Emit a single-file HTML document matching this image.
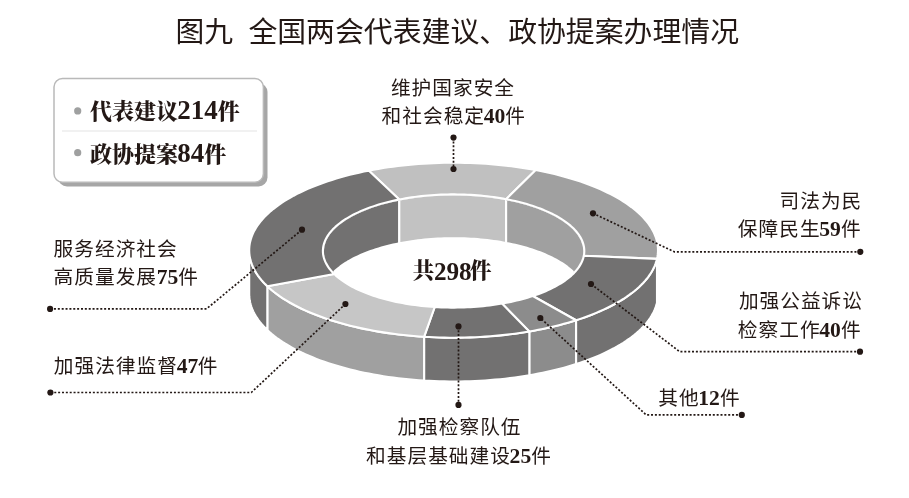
<!DOCTYPE html>
<html lang="zh-CN"><head><meta charset="utf-8"><title>图九 全国两会代表建议、政协提案办理情况</title>
<style>
html,body{margin:0;padding:0;background:#fff;}
body{width:909px;height:498px;overflow:hidden;}
svg{display:block;will-change:transform;}
text{fill:#231815;}
.t{font-family:"Liberation Sans","Noto Sans CJK SC",sans-serif;font-weight:400;}
.l{font-family:"Liberation Sans","Noto Sans CJK SC",sans-serif;font-weight:400;}
.b{font-family:"Liberation Serif","Noto Serif CJK SC",serif;font-weight:900;}
.n{font-family:"Liberation Serif","Noto Serif CJK SC",serif;font-weight:700;}
</style></head><body>
<svg width="909" height="498" viewBox="0 0 909 498">
<rect width="909" height="498" fill="#fff"/>
<rect x="58" y="83" width="209.5" height="103.4" rx="9" fill="#a6a6a6"/>
<rect x="54" y="78.6" width="209.4" height="103.6" rx="8.5" fill="#fff" stroke="#b9b9b9" stroke-width="1.5"/>
<line x1="62" y1="131" x2="257" y2="131" stroke="#e3e3e3" stroke-width="1"/>
<circle cx="77.7" cy="110.9" r="3.6" fill="#9fa0a0"/><circle cx="77.7" cy="152.7" r="3.6" fill="#9fa0a0"/>
<path d="M658.00 250.20 L657.94 252.38 L657.75 254.55 L657.43 256.72 L656.99 258.89 L656.99 302.69 L657.43 300.52 L657.75 298.35 L657.94 296.18 L658.00 294.00Z" fill="#a0a0a0" stroke="#fff" stroke-width="2.1" stroke-linejoin="round" />
<path d="M656.99 258.89 L656.40 261.14 L655.66 263.39 L654.80 265.62 L653.80 267.85 L652.66 270.06 L651.39 272.27 L649.99 274.45 L648.46 276.62 L646.79 278.77 L645.00 280.91 L643.08 283.02 L641.03 285.11 L638.85 287.17 L636.55 289.22 L634.13 291.23 L631.59 293.22 L628.93 295.18 L626.14 297.11 L623.25 299.01 L620.24 300.87 L617.12 302.70 L613.88 304.50 L610.54 306.26 L607.10 307.98 L603.55 309.66 L599.90 311.30 L596.16 312.91 L592.31 314.47 L588.38 315.98 L584.35 317.46 L580.24 318.88 L576.04 320.26 L576.04 364.06 L580.24 362.68 L584.35 361.26 L588.38 359.78 L592.31 358.27 L596.16 356.71 L599.90 355.10 L603.55 353.46 L607.10 351.78 L610.54 350.06 L613.88 348.30 L617.12 346.50 L620.24 344.67 L623.25 342.81 L626.14 340.91 L628.93 338.98 L631.59 337.02 L634.13 335.03 L636.55 333.02 L638.85 330.97 L641.03 328.91 L643.08 326.82 L645.00 324.71 L646.79 322.57 L648.46 320.42 L649.99 318.25 L651.39 316.07 L652.66 313.86 L653.80 311.65 L654.80 309.42 L655.66 307.19 L656.40 304.94 L656.99 302.69Z" fill="#727171" stroke="#fff" stroke-width="2.1" stroke-linejoin="round" />
<path d="M576.04 320.26 L572.09 321.50 L568.08 322.69 L564.00 323.84 L559.86 324.95 L555.66 326.01 L551.40 327.03 L547.08 328.01 L542.71 328.95 L538.29 329.84 L533.82 330.68 L529.31 331.48 L529.31 375.28 L533.82 374.48 L538.29 373.64 L542.71 372.75 L547.08 371.81 L551.40 370.83 L555.66 369.81 L559.86 368.75 L564.00 367.64 L568.08 366.49 L572.09 365.30 L576.04 364.06Z" fill="#8c8c8c" stroke="#fff" stroke-width="2.1" stroke-linejoin="round" />
<path d="M529.31 331.48 L524.55 332.26 L519.74 332.99 L514.89 333.67 L510.00 334.30 L505.08 334.88 L500.13 335.40 L495.14 335.87 L490.13 336.29 L485.10 336.65 L480.05 336.96 L474.98 337.22 L469.90 337.42 L464.81 337.57 L459.71 337.66 L454.61 337.70 L449.51 337.68 L444.41 337.61 L439.31 337.49 L434.23 337.31 L429.15 337.07 L424.09 336.78 L424.09 380.58 L429.15 380.87 L434.23 381.11 L439.31 381.29 L444.41 381.41 L449.51 381.48 L454.61 381.50 L459.71 381.46 L464.81 381.37 L469.90 381.22 L474.98 381.02 L480.05 380.76 L485.10 380.45 L490.13 380.09 L495.14 379.67 L500.13 379.20 L505.08 378.68 L510.00 378.10 L514.89 377.47 L519.74 376.79 L524.55 376.06 L529.31 375.28Z" fill="#727171" stroke="#fff" stroke-width="2.1" stroke-linejoin="round" />
<path d="M424.09 336.78 L418.91 336.43 L413.75 336.02 L408.61 335.55 L403.50 335.03 L398.43 334.45 L393.39 333.82 L388.40 333.13 L383.44 332.38 L378.53 331.59 L373.68 330.73 L368.87 329.83 L364.12 328.87 L359.43 327.86 L354.80 326.80 L350.24 325.69 L345.74 324.53 L341.32 323.32 L336.97 322.06 L332.70 320.75 L328.50 319.40 L324.39 318.00 L320.37 316.56 L316.43 315.07 L312.58 313.54 L308.83 311.97 L305.17 310.36 L301.61 308.71 L298.15 307.01 L294.79 305.29 L291.54 303.52 L288.39 301.72 L285.36 299.89 L282.43 298.02 L279.62 296.13 L276.92 294.20 L274.34 292.24 L271.87 290.26 L269.53 288.24 L267.31 286.21 L267.31 330.01 L269.53 332.04 L271.87 334.06 L274.34 336.04 L276.92 338.00 L279.62 339.93 L282.43 341.82 L285.36 343.69 L288.39 345.52 L291.54 347.32 L294.79 349.09 L298.15 350.81 L301.61 352.51 L305.17 354.16 L308.83 355.77 L312.58 357.34 L316.43 358.87 L320.37 360.36 L324.39 361.80 L328.50 363.20 L332.70 364.55 L336.97 365.86 L341.32 367.12 L345.74 368.33 L350.24 369.49 L354.80 370.60 L359.43 371.66 L364.12 372.67 L368.87 373.63 L373.68 374.53 L378.53 375.39 L383.44 376.18 L388.40 376.93 L393.39 377.62 L398.43 378.25 L403.50 378.83 L408.61 379.35 L413.75 379.82 L418.91 380.23 L424.09 380.58Z" fill="#a0a0a0" stroke="#fff" stroke-width="2.1" stroke-linejoin="round" />
<path d="M267.31 286.21 L265.27 284.21 L263.35 282.19 L261.54 280.14 L259.86 278.08 L258.29 276.01 L256.85 273.91 L255.53 271.80 L254.33 269.68 L253.26 267.55 L252.31 265.40 L251.49 263.25 L250.79 261.09 L250.22 258.92 L249.77 256.74 L249.45 254.56 L249.26 252.38 L249.20 250.20 L249.20 294.00 L249.26 296.18 L249.45 298.36 L249.77 300.54 L250.22 302.72 L250.79 304.89 L251.49 307.05 L252.31 309.20 L253.26 311.35 L254.33 313.48 L255.53 315.60 L256.85 317.71 L258.29 319.81 L259.86 321.88 L261.54 323.94 L263.35 325.99 L265.27 328.01 L267.31 330.01Z" fill="#727171" stroke="#fff" stroke-width="2.1" stroke-linejoin="round" />
<path d="M368.67 170.61 L373.45 169.71 L378.27 168.86 L383.14 168.06 L388.06 167.32 L393.02 166.63 L398.02 166.00 L403.06 165.42 L408.13 164.89 L413.23 164.42 L418.36 164.01 L423.51 163.65 L428.67 163.35 L433.86 163.11 L439.06 162.92 L444.26 162.79 L449.48 162.72 L454.69 162.70 L459.91 162.74 L465.12 162.84 L470.32 162.99 L475.51 163.20 L480.69 163.47 L485.85 163.80 L490.99 164.18 L496.11 164.61 L501.20 165.11 L506.25 165.65 L511.27 166.26 L516.26 166.91 L521.20 167.62 L526.10 168.39 L530.96 169.21 L535.76 170.08 L506.13 199.17 L503.06 198.61 L499.96 198.08 L496.83 197.59 L493.67 197.13 L490.48 196.70 L487.27 196.31 L484.03 195.96 L480.78 195.64 L477.51 195.36 L474.22 195.11 L470.92 194.90 L467.61 194.73 L464.29 194.59 L460.96 194.49 L457.63 194.43 L454.30 194.40 L450.96 194.41 L447.63 194.46 L444.30 194.54 L440.98 194.66 L437.66 194.82 L434.36 195.02 L431.06 195.25 L427.79 195.51 L424.53 195.82 L421.28 196.16 L418.06 196.53 L414.87 196.94 L411.69 197.39 L408.55 197.87 L405.43 198.38 L402.35 198.93 L399.30 199.52Z" fill="#c0c0c0" stroke="#fff" stroke-width="2.1" stroke-linejoin="round" />
<path d="M535.76 170.08 L540.53 171.01 L545.25 171.99 L549.90 173.02 L554.49 174.10 L559.02 175.23 L563.47 176.42 L567.86 177.65 L572.17 178.93 L576.40 180.25 L580.55 181.62 L584.61 183.04 L588.59 184.50 L592.48 186.00 L596.28 187.55 L599.99 189.13 L603.60 190.76 L607.11 192.43 L610.52 194.13 L613.83 195.87 L617.03 197.65 L620.12 199.46 L623.11 201.30 L625.98 203.18 L628.74 205.09 L631.39 207.03 L633.91 208.99 L636.32 210.98 L638.61 213.00 L640.78 215.05 L642.82 217.11 L644.74 219.20 L646.54 221.31 L648.20 223.44 L649.74 225.58 L651.15 227.74 L652.43 229.92 L653.58 232.11 L654.60 234.31 L655.49 236.52 L656.24 238.74 L656.86 240.97 L657.35 243.20 L657.70 245.44 L657.92 247.69 L658.00 249.93 L657.95 252.17 L657.76 254.42 L657.44 256.65 L656.99 258.89 L583.84 255.74 L584.08 254.28 L584.23 252.81 L584.30 251.35 L584.27 249.89 L584.16 248.43 L583.97 246.97 L583.68 245.51 L583.31 244.05 L582.85 242.60 L582.31 241.16 L581.68 239.72 L580.96 238.29 L580.16 236.87 L579.28 235.46 L578.31 234.06 L577.25 232.67 L576.12 231.29 L574.90 229.92 L573.60 228.57 L572.22 227.24 L570.76 225.92 L569.23 224.61 L567.61 223.33 L565.92 222.06 L564.16 220.81 L562.32 219.59 L560.41 218.38 L558.43 217.19 L556.37 216.03 L554.25 214.89 L552.06 213.78 L549.81 212.69 L547.49 211.62 L545.11 210.59 L542.66 209.58 L540.16 208.59 L537.60 207.64 L534.98 206.71 L532.31 205.82 L529.59 204.95 L526.82 204.11 L523.99 203.31 L521.12 202.54 L518.21 201.80 L515.25 201.09 L512.25 200.42 L509.21 199.78 L506.13 199.17Z" fill="#a0a0a0" stroke="#fff" stroke-width="2.1" stroke-linejoin="round" />
<path d="M656.99 258.89 L656.40 261.14 L655.66 263.39 L654.80 265.62 L653.80 267.85 L652.66 270.06 L651.39 272.27 L649.99 274.45 L648.46 276.62 L646.79 278.77 L645.00 280.91 L643.08 283.02 L641.03 285.11 L638.85 287.17 L636.55 289.22 L634.13 291.23 L631.59 293.22 L628.93 295.18 L626.14 297.11 L623.25 299.01 L620.24 300.87 L617.12 302.70 L613.88 304.50 L610.54 306.26 L607.10 307.98 L603.55 309.66 L599.90 311.30 L596.16 312.91 L592.31 314.47 L588.38 315.98 L584.35 317.46 L580.24 318.88 L576.04 320.26 L532.80 296.02 L535.49 295.11 L538.12 294.17 L540.70 293.20 L543.22 292.20 L545.67 291.17 L548.06 290.12 L550.39 289.04 L552.65 287.93 L554.84 286.79 L556.97 285.64 L559.02 284.46 L561.01 283.25 L562.91 282.03 L564.75 280.78 L566.51 279.51 L568.19 278.22 L569.79 276.92 L571.32 275.60 L572.76 274.26 L574.12 272.90 L575.40 271.53 L576.60 270.14 L577.71 268.75 L578.74 267.34 L579.68 265.91 L580.54 264.48 L581.31 263.04 L581.99 261.59 L582.59 260.14 L583.09 258.68 L583.51 257.21 L583.84 255.74Z" fill="#727171" stroke="#fff" stroke-width="2.1" stroke-linejoin="round" />
<path d="M576.04 320.26 L572.09 321.50 L568.08 322.69 L564.00 323.84 L559.86 324.95 L555.66 326.01 L551.40 327.03 L547.08 328.01 L542.71 328.95 L538.29 329.84 L533.82 330.68 L529.31 331.48 L502.01 303.57 L504.99 303.04 L507.94 302.48 L510.86 301.88 L513.74 301.25 L516.59 300.59 L519.40 299.90 L522.17 299.19 L524.89 298.44 L527.57 297.66 L530.21 296.86 L532.80 296.02Z" fill="#8c8c8c" stroke="#fff" stroke-width="2.1" stroke-linejoin="round" />
<path d="M529.31 331.48 L524.55 332.26 L519.74 332.99 L514.89 333.67 L510.00 334.30 L505.08 334.88 L500.13 335.40 L495.14 335.87 L490.13 336.29 L485.10 336.65 L480.05 336.96 L474.98 337.22 L469.90 337.42 L464.81 337.57 L459.71 337.66 L454.61 337.70 L449.51 337.68 L444.41 337.61 L439.31 337.49 L434.23 337.31 L429.15 337.07 L424.09 336.78 L434.73 307.01 L437.97 307.19 L441.21 307.35 L444.46 307.46 L447.72 307.54 L450.98 307.59 L454.25 307.60 L457.51 307.57 L460.77 307.51 L464.02 307.42 L467.27 307.29 L470.51 307.12 L473.74 306.92 L476.96 306.69 L480.16 306.42 L483.35 306.11 L486.52 305.78 L489.67 305.40 L492.79 305.00 L495.89 304.56 L498.96 304.08 L502.01 303.57Z" fill="#727171" stroke="#fff" stroke-width="2.1" stroke-linejoin="round" />
<path d="M424.09 336.78 L418.91 336.43 L413.75 336.02 L408.61 335.55 L403.50 335.03 L398.43 334.45 L393.39 333.82 L388.40 333.13 L383.44 332.38 L378.53 331.59 L373.68 330.73 L368.87 329.83 L364.12 328.87 L359.43 327.86 L354.80 326.80 L350.24 325.69 L345.74 324.53 L341.32 323.32 L336.97 322.06 L332.70 320.75 L328.50 319.40 L324.39 318.00 L320.37 316.56 L316.43 315.07 L312.58 313.54 L308.83 311.97 L305.17 310.36 L301.61 308.71 L298.15 307.01 L294.79 305.29 L291.54 303.52 L288.39 301.72 L285.36 299.89 L282.43 298.02 L279.62 296.13 L276.92 294.20 L274.34 292.24 L271.87 290.26 L269.53 288.24 L267.31 286.21 L334.20 274.02 L335.61 275.35 L337.10 276.66 L338.67 277.95 L340.32 279.23 L342.04 280.49 L343.83 281.72 L345.70 282.94 L347.64 284.14 L349.65 285.31 L351.73 286.46 L353.88 287.59 L356.10 288.69 L358.38 289.77 L360.72 290.82 L363.12 291.85 L365.59 292.84 L368.11 293.81 L370.69 294.76 L373.33 295.67 L376.02 296.55 L378.76 297.40 L381.55 298.22 L384.39 299.01 L387.28 299.77 L390.21 300.50 L393.18 301.19 L396.19 301.85 L399.25 302.47 L402.33 303.06 L405.45 303.62 L408.61 304.14 L411.79 304.63 L415.00 305.08 L418.24 305.49 L421.50 305.87 L424.78 306.21 L428.08 306.51 L431.40 306.78 L434.73 307.01Z" fill="#c6c6c6" stroke="#fff" stroke-width="2.1" stroke-linejoin="round" />
<path d="M267.31 286.21 L265.18 284.11 L263.17 282.00 L261.30 279.86 L259.56 277.70 L257.95 275.52 L256.47 273.33 L255.12 271.11 L253.92 268.89 L252.85 266.65 L251.91 264.40 L251.11 262.14 L250.45 259.88 L249.93 257.60 L249.55 255.33 L249.31 253.04 L249.20 250.76 L249.24 248.48 L249.41 246.19 L249.73 243.91 L250.18 241.64 L250.77 239.37 L251.50 237.10 L252.37 234.85 L253.37 232.61 L254.52 230.37 L255.79 228.16 L257.20 225.95 L258.75 223.77 L260.43 221.60 L262.24 219.45 L264.18 217.32 L266.25 215.22 L268.45 213.13 L270.77 211.08 L273.22 209.05 L275.79 207.05 L278.48 205.07 L281.29 203.13 L284.22 201.22 L287.26 199.35 L290.42 197.51 L293.69 195.70 L297.07 193.93 L300.55 192.20 L304.14 190.51 L307.83 188.86 L311.62 187.25 L315.51 185.69 L319.49 184.17 L323.56 182.69 L327.72 181.26 L331.97 179.88 L336.30 178.54 L340.71 177.26 L345.20 176.02 L349.76 174.83 L354.39 173.70 L359.09 172.62 L363.85 171.59 L368.67 170.61 L399.30 199.52 L396.22 200.15 L393.19 200.81 L390.19 201.51 L387.24 202.24 L384.33 203.00 L381.47 203.80 L378.66 204.63 L375.90 205.49 L373.19 206.38 L370.54 207.30 L367.94 208.25 L365.40 209.23 L362.92 210.24 L360.50 211.27 L358.15 212.34 L355.86 213.42 L353.63 214.54 L351.48 215.68 L349.39 216.84 L347.37 218.03 L345.43 219.23 L343.56 220.46 L341.76 221.71 L340.04 222.98 L338.39 224.27 L336.82 225.58 L335.34 226.90 L333.93 228.24 L332.60 229.60 L331.36 230.97 L330.20 232.35 L329.12 233.75 L328.12 235.16 L327.21 236.58 L326.39 238.01 L325.65 239.44 L325.00 240.89 L324.44 242.34 L323.96 243.80 L323.57 245.26 L323.27 246.73 L323.06 248.20 L322.94 249.67 L322.90 251.14 L322.95 252.62 L323.09 254.09 L323.32 255.56 L323.64 257.02 L324.05 258.49 L324.54 259.94 L325.12 261.39 L325.79 262.84 L326.55 264.27 L327.39 265.70 L328.31 267.12 L329.32 268.52 L330.42 269.92 L331.60 271.30 L332.86 272.67 L334.20 274.02Z" fill="#727171" stroke="#fff" stroke-width="2.1" stroke-linejoin="round" />
<clipPath id="ic"><ellipse cx="453.6" cy="251.0" rx="129.64999999999998" ry="55.550000000000004"/></clipPath>
<g clip-path="url(#ic)">
<path d="M322.90 251.00 L322.94 249.53 L323.08 248.06 L323.30 246.60 L323.60 245.13 L324.00 243.67 L324.48 242.22 L325.05 240.77 L325.71 239.33 L326.45 237.90 L327.28 236.47 L328.19 235.06 L329.19 233.65 L330.27 232.26 L331.44 230.88 L332.69 229.51 L334.01 228.16 L335.42 226.82 L336.91 225.50 L338.48 224.20 L340.13 222.91 L341.85 221.65 L343.65 220.40 L345.52 219.18 L347.46 217.97 L349.48 216.79 L351.56 215.63 L353.72 214.50 L355.94 213.38 L358.23 212.30 L360.58 211.24 L362.99 210.21 L365.47 209.20 L368.00 208.23 L370.60 207.28 L373.25 206.36 L375.95 205.47 L378.70 204.61 L381.51 203.79 L384.36 202.99 L387.26 202.23 L390.21 201.50 L393.20 200.81 L396.23 200.14 L399.30 199.52 L399.30 243.32 L396.23 243.94 L393.20 244.61 L390.21 245.30 L387.26 246.03 L384.36 246.79 L381.51 247.59 L378.70 248.41 L375.95 249.27 L373.25 250.16 L370.60 251.08 L368.00 252.03 L365.47 253.00 L362.99 254.01 L360.58 255.04 L358.23 256.10 L355.94 257.18 L353.72 258.30 L351.56 259.43 L349.48 260.59 L347.46 261.77 L345.52 262.98 L343.65 264.20 L341.85 265.45 L340.13 266.71 L338.48 268.00 L336.91 269.30 L335.42 270.62 L334.01 271.96 L332.69 273.31 L331.44 274.68 L330.27 276.06 L329.19 277.45 L328.19 278.86 L327.28 280.27 L326.45 281.70 L325.71 283.13 L325.05 284.57 L324.48 286.02 L324.00 287.47 L323.60 288.93 L323.30 290.40 L323.08 291.86 L322.94 293.33 L322.90 294.80Z" fill="#727171" stroke="#fff" stroke-width="2.1" stroke-linejoin="round" />
<path d="M399.30 199.52 L402.35 198.93 L405.43 198.38 L408.55 197.87 L411.69 197.39 L414.87 196.94 L418.06 196.53 L421.28 196.16 L424.53 195.82 L427.79 195.51 L431.06 195.25 L434.36 195.02 L437.66 194.82 L440.98 194.66 L444.30 194.54 L447.63 194.46 L450.96 194.41 L454.30 194.40 L457.63 194.43 L460.96 194.49 L464.29 194.59 L467.61 194.73 L470.92 194.90 L474.22 195.11 L477.51 195.36 L480.78 195.64 L484.03 195.96 L487.27 196.31 L490.48 196.70 L493.67 197.13 L496.83 197.59 L499.96 198.08 L503.06 198.61 L506.13 199.17 L506.13 242.97 L503.06 242.41 L499.96 241.88 L496.83 241.39 L493.67 240.93 L490.48 240.50 L487.27 240.11 L484.03 239.76 L480.78 239.44 L477.51 239.16 L474.22 238.91 L470.92 238.70 L467.61 238.53 L464.29 238.39 L460.96 238.29 L457.63 238.23 L454.30 238.20 L450.96 238.21 L447.63 238.26 L444.30 238.34 L440.98 238.46 L437.66 238.62 L434.36 238.82 L431.06 239.05 L427.79 239.31 L424.53 239.62 L421.28 239.96 L418.06 240.33 L414.87 240.74 L411.69 241.19 L408.55 241.67 L405.43 242.18 L402.35 242.73 L399.30 243.32Z" fill="#c2c2c2" stroke="#fff" stroke-width="2.1" stroke-linejoin="round" />
<path d="M506.13 199.17 L509.19 199.78 L512.22 200.41 L515.20 201.08 L518.14 201.78 L521.05 202.52 L523.90 203.29 L526.71 204.08 L529.47 204.91 L532.18 205.77 L534.84 206.66 L537.45 207.58 L540.00 208.53 L542.49 209.51 L544.93 210.51 L547.30 211.54 L549.61 212.60 L551.86 213.68 L554.04 214.78 L556.16 215.92 L558.21 217.07 L560.19 218.24 L562.10 219.44 L563.94 220.66 L565.70 221.90 L567.39 223.16 L569.01 224.43 L570.55 225.73 L572.01 227.04 L573.39 228.36 L574.70 229.71 L575.92 231.06 L577.06 232.43 L578.13 233.81 L579.11 235.20 L580.00 236.61 L580.82 238.02 L581.54 239.44 L582.19 240.87 L582.75 242.30 L583.22 243.74 L583.61 245.19 L583.91 246.64 L584.13 248.09 L584.26 249.54 L584.30 251.00 L584.30 294.80 L584.26 293.34 L584.13 291.89 L583.91 290.44 L583.61 288.99 L583.22 287.54 L582.75 286.10 L582.19 284.67 L581.54 283.24 L580.82 281.82 L580.00 280.41 L579.11 279.00 L578.13 277.61 L577.06 276.23 L575.92 274.86 L574.70 273.51 L573.39 272.16 L572.01 270.84 L570.55 269.53 L569.01 268.23 L567.39 266.96 L565.70 265.70 L563.94 264.46 L562.10 263.24 L560.19 262.04 L558.21 260.87 L556.16 259.72 L554.04 258.58 L551.86 257.48 L549.61 256.40 L547.30 255.34 L544.93 254.31 L542.49 253.31 L540.00 252.33 L537.45 251.38 L534.84 250.46 L532.18 249.57 L529.47 248.71 L526.71 247.88 L523.90 247.09 L521.05 246.32 L518.14 245.58 L515.20 244.88 L512.22 244.21 L509.19 243.58 L506.13 242.97Z" fill="#a0a0a0" stroke="#fff" stroke-width="2.1" stroke-linejoin="round" />
<ellipse cx="453.6" cy="294.8" rx="130.7" ry="56.6" fill="#fff"/>
</g>
<path d="M453.5 137.6 L453.5 169.0" fill="none" stroke="#231815" stroke-width="1.7" stroke-dasharray="2 1.86" stroke-linejoin="round"/><circle cx="453.5" cy="137.6" r="3.1" fill="#231815"/><circle cx="453.5" cy="169.0" r="3.1" fill="#231815"/>
<path d="M50.1 308.9 L206.5 308.9 L302.0 229.7" fill="none" stroke="#231815" stroke-width="1.7" stroke-dasharray="2 1.86" stroke-linejoin="round"/><circle cx="50.1" cy="308.9" r="3.1" fill="#231815"/><circle cx="302.0" cy="229.7" r="3.1" fill="#231815"/>
<path d="M50.4 392.5 L251.3 392.5 L345.4 304.0" fill="none" stroke="#231815" stroke-width="1.7" stroke-dasharray="2 1.86" stroke-linejoin="round"/><circle cx="50.4" cy="392.5" r="3.1" fill="#231815"/><circle cx="345.4" cy="304.0" r="3.1" fill="#231815"/>
<path d="M860.3 251.8 L674.3 251.8 L593.0 213.3" fill="none" stroke="#231815" stroke-width="1.7" stroke-dasharray="2 1.86" stroke-linejoin="round"/><circle cx="860.3" cy="251.8" r="3.1" fill="#231815"/><circle cx="593.0" cy="213.3" r="3.1" fill="#231815"/>
<path d="M860.0 351.7 L679.7 351.7 L591.0 284.0" fill="none" stroke="#231815" stroke-width="1.7" stroke-dasharray="2 1.86" stroke-linejoin="round"/><circle cx="860.0" cy="351.7" r="3.1" fill="#231815"/><circle cx="591.0" cy="284.0" r="3.1" fill="#231815"/>
<path d="M741.8 414.9 L646.2 414.9 L540.3 318.0" fill="none" stroke="#231815" stroke-width="1.7" stroke-dasharray="2 1.86" stroke-linejoin="round"/><circle cx="741.8" cy="414.9" r="3.1" fill="#231815"/><circle cx="540.3" cy="318.0" r="3.1" fill="#231815"/>
<path d="M458.5 326.4 L458.5 404.9" fill="none" stroke="#231815" stroke-width="1.7" stroke-dasharray="2 1.86" stroke-linejoin="round"/><circle cx="458.5" cy="326.4" r="3.1" fill="#231815"/><circle cx="458.5" cy="404.9" r="3.1" fill="#231815"/>
<g opacity="0.999">
<text class="t" x="175.4" y="41.6" font-size="28.8">图九</text>
<text class="t" x="248.4" y="41.6" font-size="28.86">全国两会代表建议、政协提案办理情况</text>
<text class="l" x="453.0" y="95" text-anchor="middle" font-size="19.7" letter-spacing="1.0">维护国家安全</text>
<text class="l" x="453.8" y="123.1" text-anchor="middle" font-size="19.7" letter-spacing="1.0">和社会稳定<tspan class="n" font-size="21.6" letter-spacing="0" dx="-1.3">40</tspan>件</text>
<text class="l" x="53.6" y="255.9" text-anchor="start" font-size="19.7" letter-spacing="1.0">服务经济社会</text>
<text class="l" x="53.6" y="283.9" text-anchor="start" font-size="19.7" letter-spacing="1.0">高质量发展<tspan class="n" font-size="21.6" letter-spacing="0" dx="-0.3">75</tspan>件</text>
<text class="l" x="53.8" y="373.4" text-anchor="start" font-size="19.7" letter-spacing="1.0">加强法律监督<tspan class="n" font-size="21.6" letter-spacing="0" dx="-1.2">47</tspan><tspan dx="-0.6">件</tspan></text>
<text class="l" x="862.3" y="207.9" text-anchor="end" font-size="19.7" letter-spacing="1.0">司法为民</text>
<text class="l" x="861.6" y="236.2" text-anchor="end" font-size="19.7" letter-spacing="1.0">保障民生<tspan class="n" font-size="21.6" letter-spacing="0" dx="-1.3">59</tspan>件</text>
<text class="l" x="863.0" y="307.7" text-anchor="end" font-size="19.7" letter-spacing="1.0">加强公益诉讼</text>
<text class="l" x="861.6" y="336.5" text-anchor="end" font-size="19.7" letter-spacing="1.0">检察工作<tspan class="n" font-size="21.6" letter-spacing="0" dx="-1.3">40</tspan>件</text>
<text class="l" x="740.6" y="404.6" text-anchor="end" font-size="19.7" letter-spacing="1.0">其他<tspan class="n" font-size="21.6" letter-spacing="0" dx="-1.3">12</tspan>件</text>
<text class="l" x="459.5" y="433.7" text-anchor="middle" font-size="19.7" letter-spacing="1.0">加强检察队伍</text>
<text class="l" x="459.0" y="462.6" text-anchor="middle" font-size="19.7" letter-spacing="1.0">和基层基础建设<tspan class="n" font-size="21.6" letter-spacing="0" dx="-1.3">25</tspan>件</text>
<text class="b" x="412.8" y="277.8" font-size="21.5">共<tspan class="n" font-size="25.2" letter-spacing="0" dx="-0.4" dy="2.1">298</tspan><tspan dy="-2.1" dx="-1.6">件</tspan></text>
<text class="b" x="90" y="119" font-size="22">代表建议<tspan class="n" font-size="27" letter-spacing="0" dx="-0.8">214</tspan>件</text>
<text class="b" x="90" y="161.5" font-size="22">政协提案<tspan class="n" font-size="27" letter-spacing="0" dx="-0.8">84</tspan>件</text>
</g>
</svg>
</body></html>
